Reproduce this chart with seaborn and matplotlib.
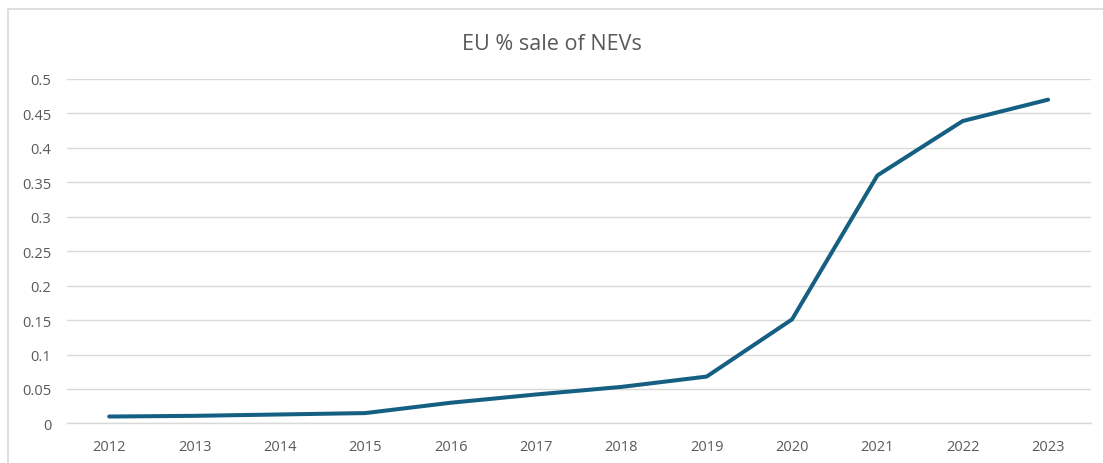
import matplotlib
matplotlib.use("Agg")
import matplotlib.pyplot as plt
from matplotlib.patches import Rectangle
import seaborn as sns
import pandas as pd

years = ["2012", "2013", "2014", "2015", "2016", "2017",
         "2018", "2019", "2020", "2021", "2022", "2023"]
nev_share = [0.010, 0.011, 0.013, 0.015, 0.030, 0.042,
             0.053, 0.068, 0.151, 0.360, 0.439, 0.470]
y_ticks = [0, 0.05, 0.1, 0.15, 0.2, 0.25, 0.3, 0.35, 0.4, 0.45, 0.5]
y_tick_labels = ["0", "0.05", "0.1", "0.15", "0.2", "0.25",
                 "0.3", "0.35", "0.4", "0.45", "0.5"]

df = pd.DataFrame({"year": years, "share": nev_share})

sns.set_theme(style="white")
plt.rcParams["font.family"] = ["Open Sans", "DejaVu Sans"]

fig = plt.figure(figsize=(11.03, 4.64), dpi=100)
ax = fig.add_axes([0.0603, 0.0853, 0.9286, 0.7423])

# chart frame
fig.patches.append(Rectangle((8 / 1103, -0.05), 1.1, 1 - 10 / 464 + 0.05,
                             transform=fig.transFigure, fill=False,
                             edgecolor="#d9d9d9", linewidth=1.2))

sns.lineplot(data=df, x="year", y="share", ax=ax, color="#156082",
             linewidth=2.9, sort=False, solid_capstyle="round",
             solid_joinstyle="round")

ax.set_xlim(-0.5, len(years) - 0.5)
ax.set_ylim(0, 0.5)
ax.set_yticks(y_ticks)
ax.set_yticklabels(y_tick_labels)
ax.yaxis.grid(True, color="#d9d9d9", linewidth=1.0)
ax.set_axisbelow(True)
for side in ["top", "right", "left"]:
    ax.spines[side].set_visible(False)
ax.spines["bottom"].set_color("#d9d9d9")
ax.spines["bottom"].set_linewidth(1.0)
ax.tick_params(axis="both", length=0, labelsize=10.5, labelcolor="#595959")
ax.tick_params(axis="y", pad=11)
ax.tick_params(axis="x", pad=11)
ax.set_xlabel("")
ax.set_ylabel("")

fig.text(0.5, 1 - 44 / 464, "EU % sale of NEVs", ha="center", va="center",
         fontsize=15.5, color="#595959")

fig.savefig("out.png", dpi=100)
